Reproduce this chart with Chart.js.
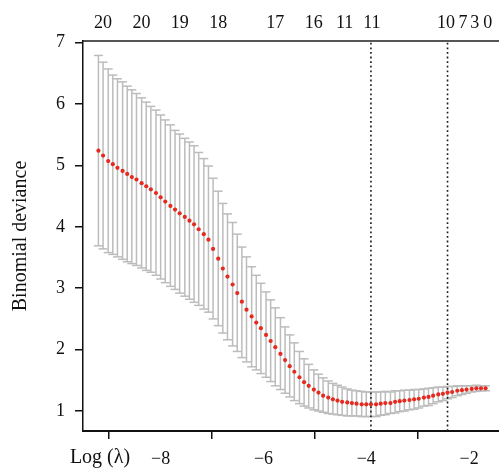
<!DOCTYPE html>
<html><head><meta charset="utf-8">
<script src="https://cdn.jsdelivr.net/npm/chart.js@4.4.0/dist/chart.umd.min.js"></script>
<style>
html,body{margin:0;padding:0;background:#fff;overflow:hidden;}
#wrap{width:499px;height:469px;overflow:hidden;position:relative;background:#fff;}
canvas{display:block;}
</style></head><body>
<div id="wrap"><canvas id="c" width="512" height="469" style="width:512px;height:469px"></canvas></div>
<script>
// log(lambda) path
const logLambda = [-9.21,-9.12,-9.02,-8.93,-8.84,-8.74,-8.65,-8.56,-8.47,-8.37,
 -8.28,-8.19,-8.09,-8.00,-7.91,-7.81,-7.72,-7.63,-7.53,-7.44,
 -7.35,-7.26,-7.16,-7.07,-6.98,-6.88,-6.79,-6.70,-6.60,-6.51,
 -6.42,-6.33,-6.23,-6.14,-6.05,-5.95,-5.86,-5.77,-5.67,-5.58,
 -5.49,-5.40,-5.30,-5.21,-5.12,-5.02,-4.93,-4.84,-4.74,-4.65,
 -4.56,-4.47,-4.37,-4.28,-4.19,-4.09,-4.00,-3.91,-3.81,-3.72,
 -3.63,-3.53,-3.44,-3.35,-3.26,-3.16,-3.07,-2.98,-2.88,-2.79,
 -2.70,-2.60,-2.51,-2.42,-2.33,-2.23,-2.14,-2.05,-1.95,-1.86,
 -1.77,-1.68];
// mean cross-validated binomial deviance
const cvMean = [5.24,5.16,5.07,5.02,4.96,4.91,4.86,4.81,4.77,4.71,
 4.66,4.61,4.55,4.48,4.41,4.34,4.28,4.22,4.16,4.10,
 4.04,3.96,3.88,3.79,3.64,3.48,3.32,3.19,3.06,2.92,
 2.78,2.65,2.54,2.44,2.35,2.24,2.14,2.04,1.93,1.83,
 1.73,1.64,1.55,1.47,1.41,1.35,1.30,1.25,1.22,1.19,
 1.17,1.15,1.14,1.13,1.12,1.11,1.11,1.11,1.11,1.12,
 1.13,1.13,1.15,1.16,1.17,1.18,1.19,1.20,1.22,1.23,
 1.25,1.27,1.28,1.30,1.31,1.33,1.34,1.35,1.36,1.37,
 1.37,1.37];
// upper error bar (mean + sd)
const cvUpper = [6.79,6.68,6.57,6.47,6.41,6.36,6.29,6.23,6.17,6.10,
 6.03,5.96,5.90,5.82,5.74,5.66,5.57,5.51,5.44,5.38,
 5.32,5.21,5.11,4.99,4.79,4.58,4.38,4.21,4.07,3.88,
 3.67,3.51,3.35,3.21,3.08,2.94,2.81,2.68,2.52,2.37,
 2.24,2.11,1.97,1.85,1.76,1.67,1.60,1.54,1.49,1.45,
 1.42,1.39,1.36,1.34,1.33,1.32,1.31,1.31,1.31,1.31,
 1.32,1.31,1.33,1.33,1.34,1.34,1.35,1.35,1.36,1.37,
 1.38,1.39,1.39,1.40,1.40,1.41,1.41,1.41,1.41,1.42,
 1.41,1.41];
// lower error bar (mean - sd)
const cvLower = [3.69,3.64,3.58,3.55,3.51,3.47,3.43,3.40,3.37,3.33,
 3.29,3.26,3.21,3.15,3.09,3.03,2.98,2.92,2.87,2.82,
 2.77,2.72,2.66,2.61,2.50,2.39,2.27,2.16,2.06,1.97,
 1.87,1.80,1.72,1.67,1.61,1.55,1.48,1.41,1.35,1.29,
 1.23,1.17,1.12,1.08,1.05,1.02,1.00,0.98,0.96,0.95,
 0.94,0.93,0.92,0.92,0.92,0.91,0.91,0.91,0.91,0.93,
 0.94,0.96,0.97,0.99,1.00,1.02,1.03,1.05,1.08,1.09,
 1.12,1.15,1.17,1.20,1.22,1.25,1.27,1.29,1.31,1.32,
 1.33,1.33];
// number of nonzero coefficients (top axis)
const nzeroLabels = ['20','20','19','18','17','16','11','11','10','7','3','0'];
const nzeroAt = [-9.12,-8.37,-7.63,-6.88,-5.77,-5.02,-4.42,-3.89,-2.45,-2.12,-1.89,-1.64];
const xTicks = [-8,-6,-4,-2];
const yTicks = [1,2,3,4,5,6,7];
const refLines = [-3.91,-2.42]; // lambda.min, lambda.1se
const xLim = [-9.51,-1.38];
const yLim = [0.675,7.025];

const serif = "'Liberation Serif','DejaVu Serif',serif";
const barGrey = '#bcbcbc';

const barData = logLambda.map((x,i)=>({x:x, y:[cvLower[i], cvUpper[i]]}));
const capData = logLambda.map((x,i)=>({x:x, y:cvUpper[i]})).concat(logLambda.map((x,i)=>({x:x, y:cvLower[i]})));
const meanData = logLambda.map((x,i)=>({x:x, y:cvMean[i]}));

const refSets = refLines.map(v=>({
  type:'line', data:[{x:v,y:yLim[0]},{x:v,y:yLim[1]}],
  borderColor:'#1a1a1a', borderWidth:1.6, borderDash:[1.8,2.8], pointRadius:0, order:1, fill:false
}));

const xLabelPlugin = {
  id:'xlabel',
  afterDraw(chart){
    const c = chart.ctx, a = chart.chartArea;
    c.save();
    c.font = "20px " + serif;
    c.fillStyle = '#111';
    c.textAlign = 'center';
    c.textBaseline = 'alphabetic';
    c.fillText('Log (\u03bb)', a.left + 17, 463);
    c.restore();
  }
};

new Chart(document.getElementById('c'), {
  type:'bar',
  data:{ datasets:[
    { type:'scatter', data:meanData, pointRadius:2.1, pointBackgroundColor:'#e52b20', pointBorderWidth:0, order:0 },
    ...refSets,
    { type:'scatter', data:capData, pointStyle:'line', pointRadius:4.5, pointBorderColor:barGrey, pointBorderWidth:1.5, order:2 },
    { type:'bar', data:barData, backgroundColor:barGrey, barThickness:1.5, inflateAmount:0, borderWidth:0, order:3 }
  ]},
  options:{
    responsive:false, devicePixelRatio:1, animation:false, events:[],
    layout:{padding:{left:0,right:11,top:0,bottom:0}},
    plugins:{legend:{display:false}, tooltip:{enabled:false}},
    scales:{
      x:{ type:'linear', position:'bottom', min:xLim[0], max:xLim[1], offset:false,
          afterBuildTicks:(ax)=>{ ax.ticks = xTicks.map(v=>({value:v})); },
          afterFit:(s)=>{ s.height = 38; },
          grid:{drawOnChartArea:false, drawTicks:true, tickLength:8, color:'#111', lineWidth:1.5},
          border:{display:true, color:'#111', width:2},
          ticks:{ autoSkip:false, maxRotation:0, minRotation:0, padding:9, color:'#111',
                  font:{family:serif, size:18},
                  callback:(v)=> (v<0?'\u2212':'') + Math.abs(v) } },
      x2:{ type:'linear', position:'top', min:xLim[0], max:xLim[1], offset:false,
          afterBuildTicks:(ax)=>{ ax.ticks = nzeroAt.map(v=>({value:v})); },
          afterFit:(s)=>{ s.height = 41; },
          grid:{drawOnChartArea:false, drawTicks:false},
          border:{display:true, color:'#555', width:2},
          ticks:{ autoSkip:false, maxRotation:0, minRotation:0, padding:7, color:'#111',
                  font:{family:serif, size:18},
                  callback:(v,i)=> nzeroLabels[i] } },
      y:{ type:'linear', position:'left', min:yLim[0], max:yLim[1],
          afterBuildTicks:(ax)=>{ ax.ticks = yTicks.map(v=>({value:v})); },
          afterFit:(s)=>{ s.width = 83; },
          grid:{drawOnChartArea:false, drawTicks:true, tickLength:8, color:'#111', lineWidth:1.5},
          border:{display:true, color:'#111', width:1.5},
          title:{display:true, text:'Binomial deviance', color:'#111', font:{family:serif, size:20}, padding:{top:9,bottom:0}},
          ticks:{ padding:10, color:'#111', font:{family:serif, size:18} } }
    }
  },
  plugins:[xLabelPlugin]
});
</script>
</body></html>
